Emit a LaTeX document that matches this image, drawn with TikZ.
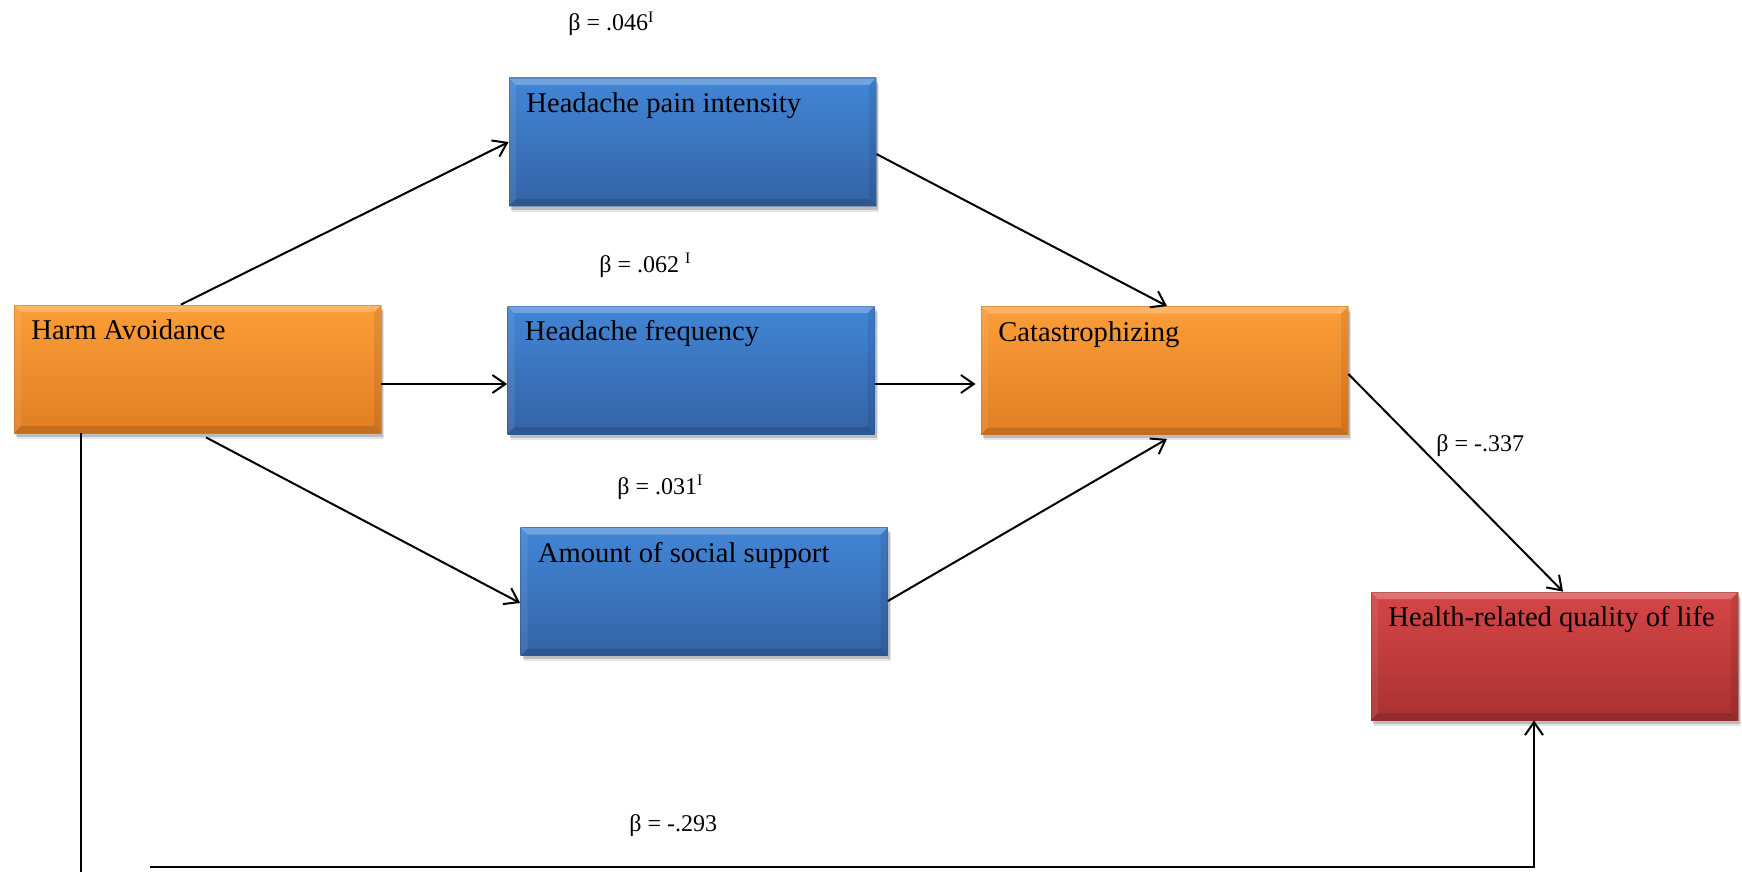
\documentclass[tikz,border=0pt]{standalone}
\usepackage{fontspec}
\setmainfont{Liberation Serif}
\usetikzlibrary{arrows.meta,shadows}

% box colours: T = top of body, B = bottom of body, D = dark edge
\definecolor{orangeT}{HTML}{FB9D38}
\definecolor{orangeB}{HTML}{E17E24}
\definecolor{orangeD}{HTML}{B5661C}
\definecolor{blueT}{HTML}{4286D6}
\definecolor{blueB}{HTML}{3463A6}
\definecolor{blueD}{HTML}{2A4F86}
\definecolor{redT}{HTML}{D64646}
\definecolor{redB}{HTML}{A93131}
\definecolor{redD}{HTML}{822424}

\newcommand{\bev}{3.5pt}

\tikzset{
  bevelbox/.style={
    rectangle, inner sep=0pt,
    minimum width=183.5pt, minimum height=64pt,
    top color=#1T, bottom color=#1B,
    draw=#1D, draw opacity=0.35, line width=0.4pt,
    general shadow={shadow xshift=1.6pt, shadow yshift=-2.8pt, fill=black, opacity=0.10},
    general shadow={shadow xshift=1.0pt, shadow yshift=-1.8pt, fill=black, opacity=0.18},
    path picture={
      \fill[white, opacity=0.25]
        (path picture bounding box.north west) -- (path picture bounding box.north east)
        -- ([shift={(-\bev,-\bev)}]path picture bounding box.north east)
        -- ([shift={(\bev,-\bev)}]path picture bounding box.north west) -- cycle;
      \fill[black, opacity=0.13]
        (path picture bounding box.south west) -- (path picture bounding box.south east)
        -- ([shift={(-\bev,\bev)}]path picture bounding box.south east)
        -- ([shift={(\bev,\bev)}]path picture bounding box.south west) -- cycle;
      \fill[white, opacity=0.08]
        (path picture bounding box.north west) -- (path picture bounding box.south west)
        -- ([shift={(\bev,\bev)}]path picture bounding box.south west)
        -- ([shift={(\bev,-\bev)}]path picture bounding box.north west) -- cycle;
      \fill[black, opacity=0.08]
        (path picture bounding box.north east) -- (path picture bounding box.south east)
        -- ([shift={(-\bev,\bev)}]path picture bounding box.south east)
        -- ([shift={(-\bev,-\bev)}]path picture bounding box.north east) -- cycle;
    }
  },
  boxtext/.style={label={[anchor=base west, xshift=8.7pt, yshift=-17.5pt,
      inner sep=0pt, font=\fontsize{14.3}{17}\selectfont]north west:#1}},
  coef/.style={anchor=base west, inner sep=0pt, font=\fontsize{12}{14}\selectfont},
  link/.style={line width=1pt, -{Straight Barb[length=6.5pt,width=9pt,line width=1pt]}}
}

\begin{document}
\begin{tikzpicture}[x=0.5pt, y=-0.5pt]
  \useasboundingbox (0,0) rectangle (1742,872);

  % variables
  \node[bevelbox=orange, boxtext={Harm Avoidance}]             (ha)  at (197.5,369)  {};
  \node[bevelbox=blue,   boxtext={Headache pain intensity}]    (hpi) at (692.5,142)  {};
  \node[bevelbox=blue,   boxtext={Headache frequency}]         (hf)  at (691,370)    {};
  \node[bevelbox=blue,   boxtext={Amount of social support}]   (ass) at (704,591.5)  {};
  \node[bevelbox=orange, boxtext={Catastrophizing}]            (cat) at (1164.5,370.5) {};
  \node[bevelbox=red,    boxtext={Health-related quality of life}] (hrq) at (1554.5,656) {};

  % path coefficients
  \node[coef] (b1) at (568,31)   {β = .046\textsuperscript{I}};
  \node[coef] (b2) at (599,272)  {β = .062 \textsuperscript{I}};
  \node[coef] (b3) at (617,494)  {β = .031\textsuperscript{I}};
  \node[coef] (b4) at (1436,451) {β = -.337};
  \node[coef] (b5) at (629,831)  {β = -.293};

  % paths through the mediators
  \draw[link] ([xshift=-8.25pt]ha.north) -- (hpi.west);
  \draw[link] ([yshift=-7.5pt]ha.east) -- ([yshift=-7.5pt]ha.east -| hf.west);
  \draw[link] ([xshift=4.25pt,yshift=-2pt]ha.south) -- ([yshift=-5.75pt]ass.west);
  \draw[link] ([yshift=-6pt]hpi.east) -- ([xshift=1.25pt]cat.north);
  \draw[link, shorten >=2.5pt] ([yshift=-7pt]hf.east) -- ([yshift=-7pt]hf.east -| cat.west);
  \draw[link] ([yshift=-4.75pt]ass.east) -- ([xshift=1.25pt,yshift=-2pt]cat.south);
  \draw[link] ([yshift=-1.75pt]cat.east) -- ([xshift=4.25pt]hrq.north);

  % direct path from Harm Avoidance to quality of life
  \coordinate (dl) at (81,872);
  \coordinate (dr) at (150,867);
  \draw[line width=1pt] ([xshift=-58.25pt]ha.south) -- (dl);
  \draw[link] (dr) -| ([xshift=-10.25pt]hrq.south);
\end{tikzpicture}
\end{document}
